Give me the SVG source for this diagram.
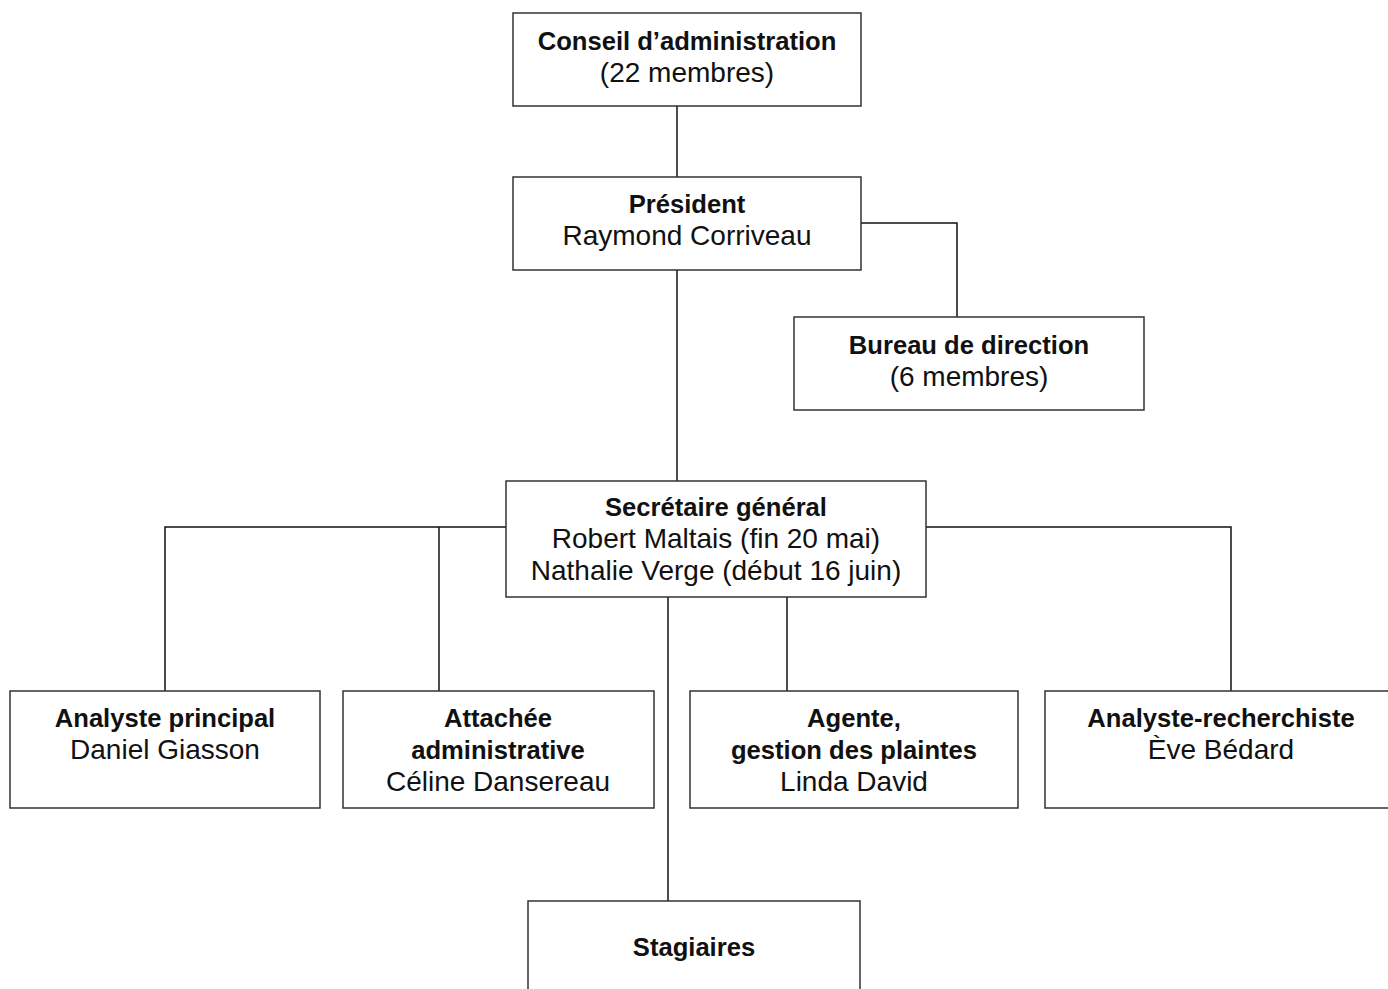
<svg xmlns="http://www.w3.org/2000/svg" width="1388" height="989" viewBox="0 0 1388 989">
<style>
.box{fill:#fff;stroke:#333;stroke-width:1.5}
.ln{fill:none;stroke:#111;stroke-width:1.5}
text{font-family:"Liberation Sans",Arial,sans-serif;text-anchor:middle;fill:#111}
.b{font-weight:bold;font-size:25.6px}
.r{font-size:28px}
</style>
<rect width="1388" height="989" fill="#fff"/>
<g id="connectors">
<path class="ln" d="M677 106V177"/>
<path class="ln" d="M861 223H957V317"/>
<path class="ln" d="M677 270V481"/>
<path class="ln" d="M506 527H165V691"/>
<path class="ln" d="M439 527V691"/>
<path class="ln" d="M926 527H1231V691"/>
<path class="ln" d="M787 597V691"/>
<path class="ln" d="M668 597V901"/>
</g>
<g id="conseil"><rect class="box" x="513" y="13" width="348" height="93"/>
<text class="b" x="687" y="50">Conseil d’administration</text><text class="r" x="687" y="82">(22 membres)</text></g>
<g id="president"><rect class="box" x="513" y="177" width="348" height="93"/>
<text class="b" x="687" y="213">Président</text><text class="r" x="687" y="245">Raymond Corriveau</text></g>
<g id="bureau"><rect class="box" x="794" y="317" width="350" height="93"/>
<text class="b" x="969" y="354">Bureau de direction</text><text class="r" x="969" y="386">(6 membres)</text></g>
<g id="secretaire"><rect class="box" x="506" y="481" width="420" height="116"/>
<text class="b" x="716" y="516">Secrétaire général</text><text class="r" x="716" y="548">Robert Maltais (fin 20 mai)</text><text class="r" x="716" y="580">Nathalie Verge (début 16 juin)</text></g>
<g id="analyste"><rect class="box" x="10" y="691" width="310" height="117"/>
<text class="b" x="165" y="727">Analyste principal</text><text class="r" x="165" y="759">Daniel Giasson</text></g>
<g id="attachee"><rect class="box" x="343" y="691" width="311" height="117"/>
<text class="b" x="498" y="727">Attachée</text><text class="b" x="498" y="759">administrative</text><text class="r" x="498" y="791">Céline Dansereau</text></g>
<g id="agente"><rect class="box" x="690" y="691" width="328" height="117"/>
<text class="b" x="854" y="727">Agente,</text><text class="b" x="854" y="759">gestion des plaintes</text><text class="r" x="854" y="791">Linda David</text></g>
<g id="recherchiste"><rect class="box" x="1045" y="691" width="352" height="117"/>
<text class="b" x="1221" y="727">Analyste-recherchiste</text><text class="r" x="1221" y="759">Ève Bédard</text></g>
<g id="stagiaires"><rect class="box" x="528" y="901" width="332" height="100"/>
<text class="b" x="694" y="956">Stagiaires</text></g>
</svg>
